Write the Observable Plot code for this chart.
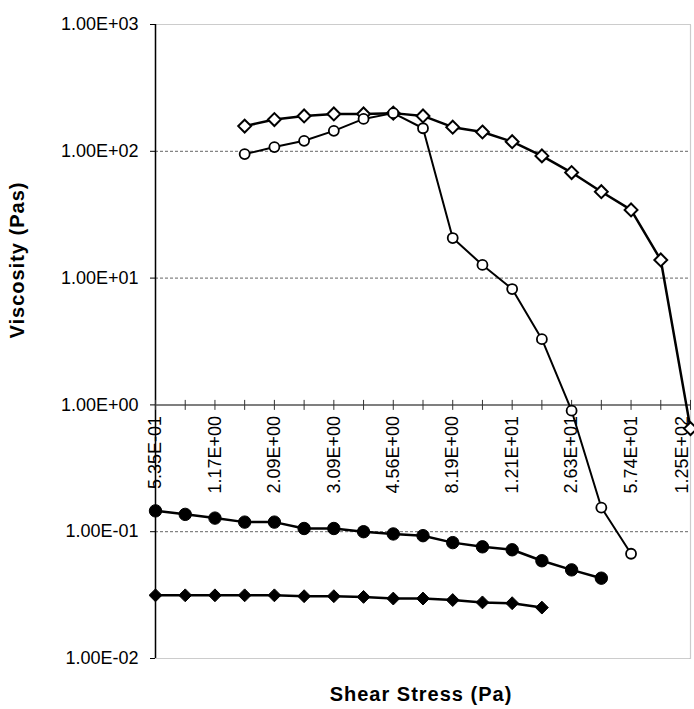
<!DOCTYPE html>
<html>
<head>
<meta charset="utf-8">
<script src="https://cdn.jsdelivr.net/npm/d3@7"></script>
<script src="https://cdn.jsdelivr.net/npm/@observablehq/plot@0.6"></script>
<style>
  html, body { margin: 0; padding: 0; background: #fff; }
  #chart { width: 694px; height: 709px; }
</style>
</head>
<body>
<div id="chart"></div>
<script>
// Category x-axis: 19 shear-stress steps, labels on every other step
const categoryCount = 19;
const tickLabels = ["5.35E-01","1.17E+00","2.09E+00","3.09E+00","4.56E+00","8.19E+00","1.21E+01","2.63E+01","5.74E+01","1.25E+02"];
const yTicks = [0.01, 0.1, 1, 10, 100, 1000];
const yGrid = [0.1, 10, 100];

// Series (start index in category list + viscosity values, Pa·s)
const openDiamondStart = 3;
const openDiamond = [158, 178, 190, 197, 197, 200, 190, 155, 142, 119, 92, 68, 48, 34.5, 13.9, 0.65];
const openCircleStart = 3;
const openCircle = [95, 108, 121, 145, 180, 200, 152, 20.7, 12.7, 8.2, 3.3, 0.9, 0.155, 0.067];
const filledCircleStart = 0;
const filledCircle = [0.146, 0.137, 0.128, 0.119, 0.119, 0.106, 0.106, 0.100, 0.096, 0.093, 0.082, 0.076, 0.072, 0.059, 0.050, 0.043];
const filledDiamondStart = 0;
const filledDiamond = [0.0315, 0.0315, 0.0315, 0.0315, 0.0315, 0.031, 0.031, 0.0306, 0.0297, 0.0297, 0.0289, 0.0277, 0.0273, 0.0252];

const toRows = (start, vals) => vals.map((v, k) => ({i: start + k, v}));
const sOD = toRows(openDiamondStart, openDiamond);
const sOC = toRows(openCircleStart, openCircle);
const sFC = toRows(filledCircleStart, filledCircle);
const sFD = toRows(filledDiamondStart, filledDiamond);

const cats = d3.range(categoryCount);
const labelRows = tickLabels.map((t, k) => ({i: k * 2, t}));
const innerLabels = labelRows.slice(0, -1);
const lastLabel = labelRows.slice(-1);

function fmt(d) {
  const e = Math.round(Math.log10(d));
  const m = d / Math.pow(10, e);
  return m.toFixed(2) + "E" + (e < 0 ? "-" : "+") + String(Math.abs(e)).padStart(2, "0");
}

const tickSymbol = {
  draw(ctx) { ctx.moveTo(0, -5); ctx.lineTo(0, 5); }
};

const font = "'Liberation Sans', Arial, Helvetica, sans-serif";
const lineW = 2.5;
const labelOpts = {x: "i", y: () => 1, text: "t", rotate: -90, textAnchor: "end", lineAnchor: "middle", dy: 11, fontSize: 18, fill: "#000"};

const chart = Plot.plot({
  width: 694,
  height: 709,
  marginTop: 24,
  marginBottom: 51,
  marginLeft: 155,
  marginRight: 4,
  style: {fontFamily: font, fontSize: "18px", color: "#000", background: "#fff"},
  x: {type: "linear", domain: [0, categoryCount - 1], axis: null},
  y: {type: "log", domain: [0.01, 1000], axis: null},
  marks: [
    Plot.ruleY(yGrid, {stroke: "#666", strokeWidth: 1, strokeDasharray: "3,2"}),
    Plot.frame({stroke: "#999", strokeWidth: 1.2, strokeDasharray: "1,1"}),
    Plot.ruleX([0], {stroke: "#000", strokeWidth: 1.5}),
    Plot.axisY({ticks: yTicks, tickFormat: fmt, tickSize: 5, tickPadding: 12, stroke: "#000", fill: "#000", fontSize: 18, anchor: "left", label: null}),
    Plot.ruleY([1], {stroke: "#555", strokeWidth: 1.5}),
    Plot.dot(cats, {x: d => d, y: () => 1, symbol: tickSymbol, stroke: "#333", strokeWidth: 1, r: 3}),
    Plot.text(innerLabels, labelOpts),
    Plot.text(lastLabel, {...labelOpts, dx: -8}),
    // open diamond series
    Plot.line(sOD, {x: "i", y: "v", stroke: "#000", strokeWidth: lineW}),
    Plot.dot(sOD, {x: "i", y: "v", symbol: "diamond2", r: 5.8, fill: "#fff", stroke: "#000", strokeWidth: 2}),
    // open circle series
    Plot.line(sOC, {x: "i", y: "v", stroke: "#000", strokeWidth: 2}),
    Plot.dot(sOC, {x: "i", y: "v", symbol: "circle", r: 5, fill: "#fff", stroke: "#000", strokeWidth: 1.8}),
    // filled circle series
    Plot.line(sFC, {x: "i", y: "v", stroke: "#000", strokeWidth: lineW}),
    Plot.dot(sFC, {x: "i", y: "v", symbol: "circle", r: 6.2, fill: "#000", stroke: "#000", strokeWidth: 1}),
    // filled diamond series
    Plot.line(sFD, {x: "i", y: "v", stroke: "#000", strokeWidth: lineW}),
    Plot.dot(sFD, {x: "i", y: "v", symbol: "diamond2", r: 5.8, fill: "#000", stroke: "#000", strokeWidth: 1}),
    // axis titles
    Plot.text(["Shear Stress (Pa)"], {frameAnchor: "bottom", dy: 36, dx: -2, fontSize: 20, fontWeight: "bold", fill: "#000", lineAnchor: "middle"}),
    Plot.text(["Viscosity (Pas)"], {frameAnchor: "left", dx: -138, dy: -3, rotate: -90, fontSize: 20, fontWeight: "bold", fill: "#000", lineAnchor: "middle"})
  ]
});

d3.select(chart).selectAll("text").filter(function() {
  const t = this.textContent;
  return t === "Shear Stress (Pa)" || t === "Viscosity (Pas)";
}).style("letter-spacing", "1px");

document.getElementById("chart").appendChild(chart);
</script>
</body>
</html>
